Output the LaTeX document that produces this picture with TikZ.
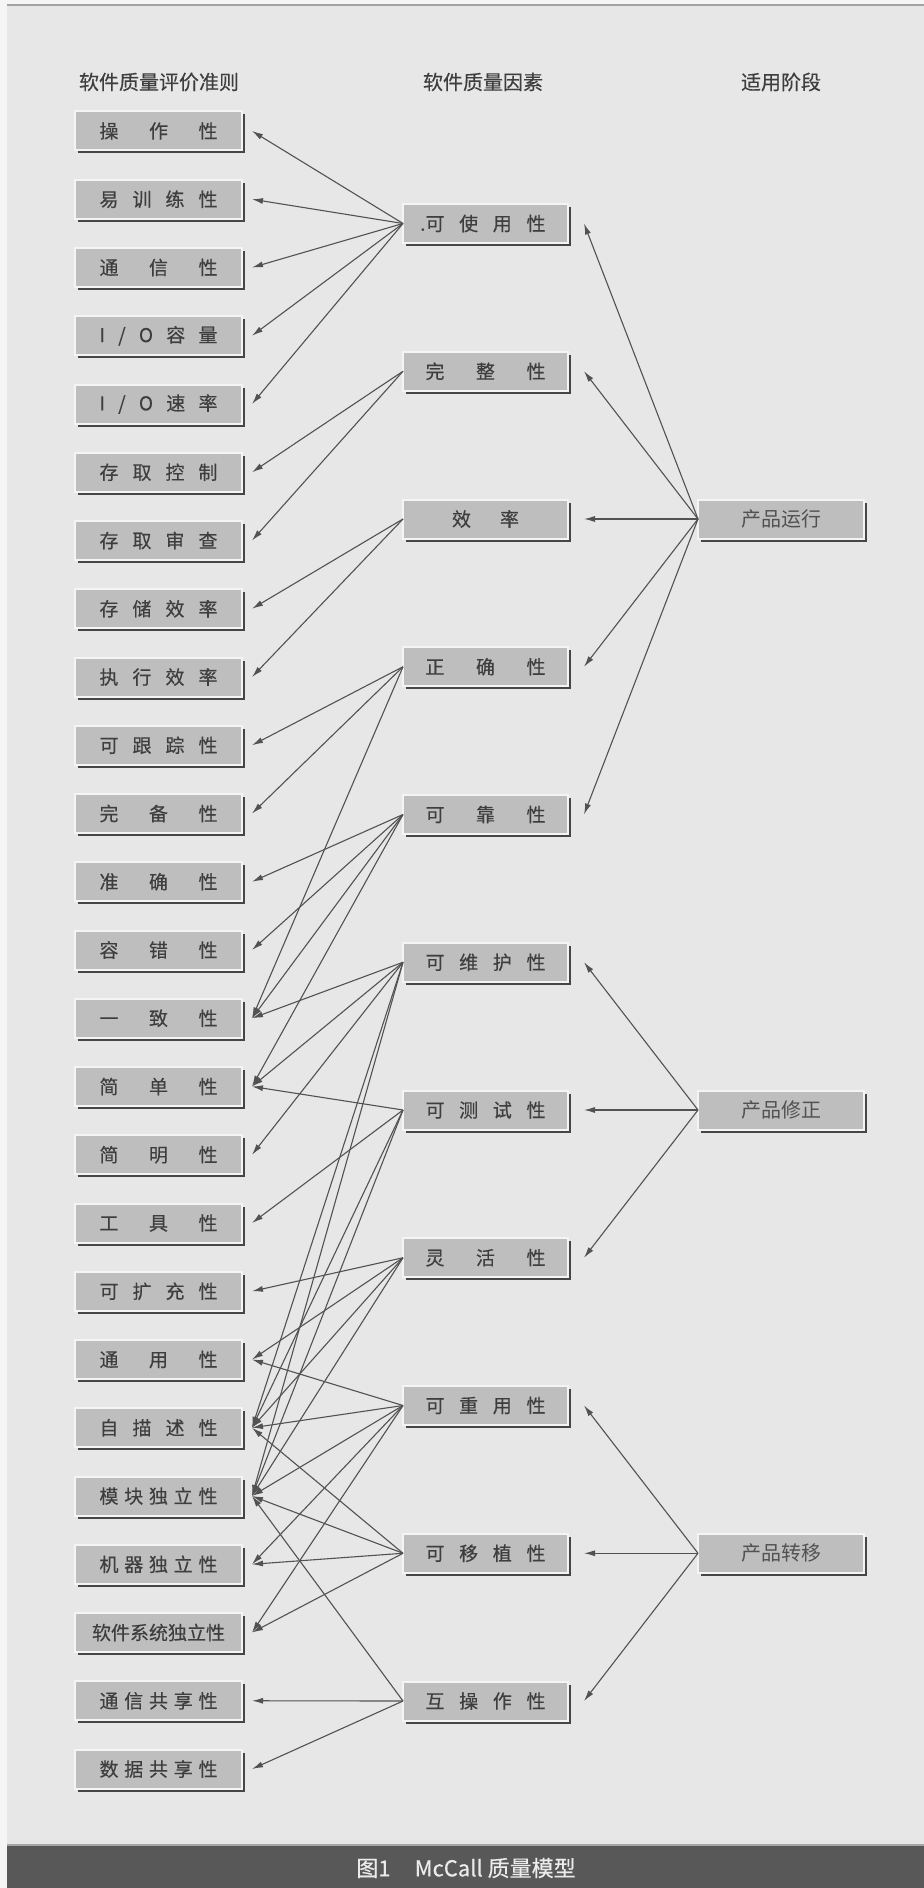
\documentclass[tikz,border=0pt]{standalone}
\usepackage{fontspec}
\setmainfont{Noto Sans CJK SC}
\newfontfamily\boxfont{Noto Sans CJK SC}[FakeBold=0.35]
\usepackage{tikz}
\usetikzlibrary{arrows.meta,positioning,shadows}
\definecolor{paper}{HTML}{E7E7E7}
\definecolor{edge}{HTML}{F5F5F5}
\definecolor{rule}{HTML}{A3A3A3}
\definecolor{face}{HTML}{BEBEBE}
\definecolor{lite}{HTML}{F4F4F4}
\definecolor{dark}{HTML}{464646}
\definecolor{ink}{HTML}{3E3E3E}
\definecolor{wire}{HTML}{525252}
\definecolor{band}{HTML}{585858}
\newcommand{\lspread}[1]{\makebox[59pt][s]{#1}}
\newcommand{\mspread}[1]{\makebox[60pt][s]{#1}}
\tikzset{
  >={Latex[length=5.5pt,width=3pt]},
  btn/.style={draw=lite,line width=1pt,fill=face,outer sep=0pt,inner sep=1pt,
    minimum height=19.5pt,text=ink,font=\boxfont\fontsize{9.5pt}{11pt}\selectfont,
    general shadow={fill=dark,shadow xshift=1.5pt,shadow yshift=-1.5pt}},
  cbox/.style={btn,minimum width=83.5pt,outer xsep=5pt},
  fbox/.style={btn,minimum width=82.5pt},
  ubox/.style={btn,minimum width=83pt,font=\fontsize{10pt}{12pt}\selectfont,text=ink!90},
  head/.style={font=\boxfont\fontsize{10pt}{12pt}\selectfont,text=ink},
  arr/.style={->,draw=wire,line width=0.55pt},
}
\begin{document}
\begin{tikzpicture}[x=0.5pt,y=-0.5pt]
\useasboundingbox (0,0) rectangle (924,1888);
% page and caption band
\fill[edge] (0,0) rectangle (924,1888);
\fill[paper] (7,6) rectangle (924,1845);
\draw[rule,line width=1.2pt] (7,5) -- (924,5);
\fill[band] (7,1845) rectangle (924,1888);
\draw[gray!70,line width=0.6pt] (7,1845) -- (924,1845);
\node[font=\boxfont\fontsize{11pt}{13pt}\selectfont,text=white!92!black] (cap) at (466,1868) {图1\hspace{1.1em}McCall 质量模型};

% column heads
\node[head] (h1) at (159,82) {软件质量评价准则};
\node[head] (h2) at (483,82) {软件质量因素};
\node[head] (h3) at (781,82) {适用阶段};

% criteria
\node[cbox] (opr) at (158.5,131) {\lspread{操 作 性}};
\node[cbox,below=14.625pt of opr] (trn) {\lspread{易 训 练 性}};
\node[cbox,below=14.625pt of trn] (com) {\lspread{通 信 性}};
\node[cbox,below=14.625pt of com] (iov) {\lspread{I / O 容 量}};
\node[cbox,below=14.625pt of iov] (ior) {\lspread{I / O 速 率}};
\node[cbox,below=14.625pt of ior] (acc) {\lspread{存 取 控 制}};
\node[cbox,below=14.625pt of acc] (aud) {\lspread{存 取 审 查}};
\node[cbox,below=14.625pt of aud] (ste) {\lspread{存 储 效 率}};
\node[cbox,below=14.625pt of ste] (exe) {\lspread{执 行 效 率}};
\node[cbox,below=14.625pt of exe] (trc) {\lspread{可 跟 踪 性}};
\node[cbox,below=14.625pt of trc] (cpl) {\lspread{完 备 性}};
\node[cbox,below=14.625pt of cpl] (acy) {\lspread{准 确 性}};
\node[cbox,below=14.625pt of acy] (err) {\lspread{容 错 性}};
\node[cbox,below=14.625pt of err] (cns) {\lspread{一 致 性}};
\node[cbox,below=14.625pt of cns] (smp) {\lspread{简 单 性}};
\node[cbox,below=14.625pt of smp] (cnc) {\lspread{简 明 性}};
\node[cbox,below=14.625pt of cnc] (ins) {\lspread{工 具 性}};
\node[cbox,below=14.625pt of ins] (exp) {\lspread{可 扩 充 性}};
\node[cbox,below=14.625pt of exp] (gen) {\lspread{通 用 性}};
\node[cbox,below=14.625pt of gen] (sdc) {\lspread{自 描 述 性}};
\node[cbox,below=14.625pt of sdc] (mod) {\lspread{模 块 独 立 性}};
\node[cbox,below=14.625pt of mod] (mch) {\lspread{机 器 独 立 性}};
\node[cbox,below=14.625pt of mch] (ssi) {软件系统独立性};
\node[cbox,below=14.625pt of ssi] (cmc) {\lspread{通 信 共 享 性}};
\node[cbox,below=14.625pt of cmc] (dtc) {\lspread{数 据 共 享 性}};

% factors
\node[fbox] (use) at (485.5,223.5) {\mspread{\llap{.}可 使 用 性}};
\node[fbox,below=54.375pt of use] (itg) {\mspread{完 整 性}};
\node[fbox,below=54.375pt of itg] (eff) {\makebox[33.5pt][s]{效 率}};
\node[fbox,below=54.375pt of eff] (cor) {\mspread{正 确 性}};
\node[fbox,below=54.375pt of cor] (rel) {\mspread{可 靠 性}};
\node[fbox,below=54.375pt of rel] (mnt) {\mspread{可 维 护 性}};
\node[fbox,below=54.375pt of mnt] (tst) {\mspread{可 测 试 性}};
\node[fbox,below=54.375pt of tst] (flx) {\mspread{灵 活 性}};
\node[fbox,below=54.375pt of flx] (reu) {\mspread{可 重 用 性}};
\node[fbox,below=54.375pt of reu] (prt) {\mspread{可 移 植 性}};
\node[fbox,below=54.375pt of prt] (iop) {\mspread{互 操 作 性}};

% use phases
\node[ubox,right=65pt of eff] (pop) {产品运行};
\node[ubox,right=65pt of tst] (prv) {产品修正};
\node[ubox,right=65pt of prt] (ptr) {产品转移};

% factor -> criteria
\draw[arr] (use.west)--(opr.east); \draw[arr] (use.west)--(trn.east); \draw[arr] (use.west)--(com.east);
\draw[arr] (use.west)--(iov.east); \draw[arr] (use.west)--(ior.east);
\draw[arr] (itg.west)--(acc.east); \draw[arr] (itg.west)--(aud.east);
\draw[arr] (eff.west)--(ste.east); \draw[arr] (eff.west)--(exe.east);
\draw[arr] (cor.west)--(trc.east); \draw[arr] (cor.west)--(cpl.east); \draw[arr] (cor.west)--(cns.east);
\draw[arr] (rel.west)--(acy.east); \draw[arr] (rel.west)--(err.east); \draw[arr] (rel.west)--(cns.east); \draw[arr] (rel.west)--(smp.east);
\draw[arr] (mnt.west)--(cns.east); \draw[arr] (mnt.west)--(smp.east); \draw[arr] (mnt.west)--(cnc.east);
\draw[arr] (mnt.west)--(sdc.east); \draw[arr] (mnt.west)--(mod.east);
\draw[arr] (tst.west)--(smp.east); \draw[arr] (tst.west)--(ins.east); \draw[arr] (tst.west)--(sdc.east); \draw[arr] (tst.west)--(mod.east);
\draw[arr] (flx.west)--(exp.east); \draw[arr] (flx.west)--(gen.east); \draw[arr] (flx.west)--(sdc.east); \draw[arr] (flx.west)--(mod.east);
\draw[arr] (reu.west)--(gen.east); \draw[arr] (reu.west)--(sdc.east); \draw[arr] (reu.west)--(mod.east);
\draw[arr] (reu.west)--(mch.east); \draw[arr] (reu.west)--(ssi.east);
\draw[arr] (prt.west)--(sdc.east); \draw[arr] (prt.west)--(mod.east); \draw[arr] (prt.west)--(mch.east); \draw[arr] (prt.west)--(ssi.east);
\draw[arr] (iop.west)--(mod.east); \draw[arr] (iop.west)--(cmc.east); \draw[arr] (iop.west)--(dtc.east);

% phase -> factor
\draw[arr] (pop.west)--([xshift=8pt]use.east); \draw[arr] (pop.west)--([xshift=8pt]itg.east); \draw[arr] (pop.west)--([xshift=8pt]eff.east);
\draw[arr] (pop.west)--([xshift=8pt]cor.east); \draw[arr] (pop.west)--([xshift=8pt]rel.east);
\draw[arr] (prv.west)--([xshift=8pt]mnt.east); \draw[arr] (prv.west)--([xshift=8pt]tst.east); \draw[arr] (prv.west)--([xshift=8pt]flx.east);
\draw[arr] (ptr.west)--([xshift=8pt]reu.east); \draw[arr] (ptr.west)--([xshift=8pt]prt.east); \draw[arr] (ptr.west)--([xshift=8pt]iop.east);
\end{tikzpicture}
\end{document}
